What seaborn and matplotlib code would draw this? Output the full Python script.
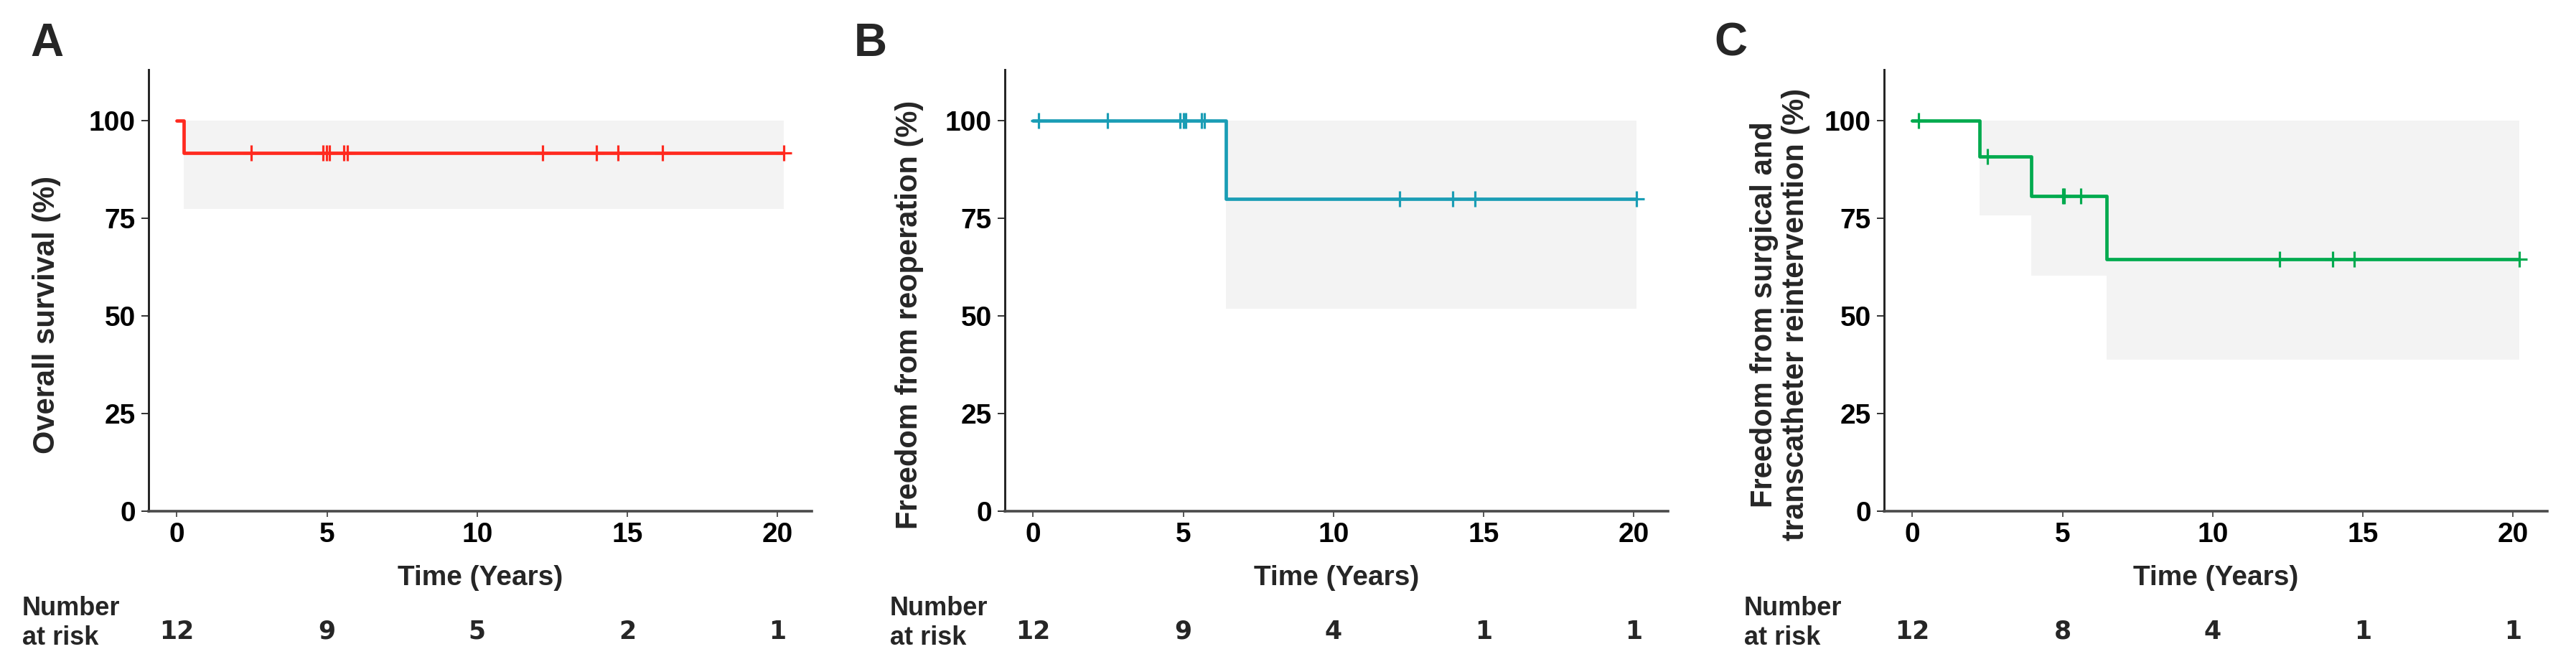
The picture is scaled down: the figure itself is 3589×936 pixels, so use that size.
import numpy as np
import pandas as pd
import matplotlib
matplotlib.use('Agg')
import matplotlib.pyplot as plt
import matplotlib.transforms as mtransforms
import seaborn as sns

# ---- data ----
# A: overall survival
a_t = [0, 0.22, 20.2]
a_s = [100, 91.7, 91.7]
a_cens = [2.48, 4.87, 4.98, 5.09, 5.55, 5.67, 12.18, 13.96, 14.68, 16.18, 20.2]
a_ci_t = [0.22, 20.2]
a_ci_lo = [77.4, 77.4]
a_risk = [12, 9, 5, 2, 1]

# B: freedom from reoperation
b_t = [0, 6.42, 20.1]
b_s = [100, 80.0, 80.0]
b_cens = [0.18, 2.47, 4.9, 5.0, 5.08, 5.6, 5.7, 12.2, 13.97, 14.7, 20.1]
b_ci_t = [6.42, 20.1]
b_ci_lo = [51.8, 51.8]
b_risk = [12, 9, 4, 1, 1]

# C: freedom from surgical and transcatheter reintervention
c_t = [0, 2.24, 3.95, 6.47, 20.2]
c_s = [100, 90.9, 80.8, 64.6, 64.6]
c_cens = [0.2, 2.5, 5.0, 5.06, 5.6, 12.22, 13.99, 14.71, 20.2]
c_ci_t = [2.24, 3.95, 6.47, 20.2]
c_ci_lo = [75.8, 60.4, 38.8, 38.8]
c_risk = [12, 8, 4, 1, 1]

xticks = [0, 5, 10, 15, 20]
yticks = [0, 25, 50, 75, 100]

panels = [
    dict(tag='A', t=a_t, s=a_s, cens=a_cens, ci_t=a_ci_t, ci_lo=a_ci_lo, risk=a_risk,
         color='#FF2A1F', ylabel='Overall survival (%)',
         left=207, tag_x=42, ylab_x=65, risk_x=31),
    dict(tag='B', t=b_t, s=b_s, cens=b_cens, ci_t=b_ci_t, ci_lo=b_ci_lo, risk=b_risk,
         color='#1A9DB5', ylabel='Freedom from reoperation (%)',
         left=1400, tag_x=1190, ylab_x=1267, risk_x=1240),
    dict(tag='C', t=c_t, s=c_s, cens=c_cens, ci_t=c_ci_t, ci_lo=c_ci_lo, risk=c_risk,
         color='#00AA4E', ylabel='Freedom from surgical and\ntranscatheter reintervention (%)',
         left=2625, tag_x=2388, ylab_x=2480, risk_x=2430),
]

W, H = 3589, 936
sns.set_style('ticks')
plt.rcParams['font.family'] = ['Liberation Sans', 'DejaVu Sans']
plt.rcParams['font.weight'] = 'bold'
narrow = ['Liberation Sans Narrow', 'Liberation Sans', 'DejaVu Sans']

fig = plt.figure(figsize=(W / 100, H / 100), dpi=100)


def fx(px):
    return px / W


def fy(py):
    return 1 - py / H


ax_top, ax_bot, ax_w = 97, 712, 924
for p in panels:
    ax = fig.add_axes([fx(p['left']), fy(ax_bot), fx(ax_w), (ax_bot - ax_top) / H])

    ax.fill_between(p['ci_t'], p['ci_lo'], [100] * len(p['ci_t']), step='post',
                    color='#F3F3F3', lw=0, zorder=1)

    curve = pd.DataFrame({'time': p['t'], 'surv': p['s']})
    sns.lineplot(data=curve, x='time', y='surv', drawstyle='steps-post', estimator=None,
                 color=p['color'], lw=3.4, ax=ax, zorder=3)

    t = np.array(p['t'])
    s = np.array(p['s'])
    cy = s[np.searchsorted(t, p['cens'], side='right') - 1]
    cens = pd.DataFrame({'time': p['cens'], 'surv': cy})
    sns.scatterplot(data=cens, x='time', y='surv', marker='+', s=240, color=p['color'],
                    linewidth=2.3, ax=ax, zorder=4)

    ax.set_xlim(-0.94, 21.14)
    ax.set_ylim(0, 113.1)
    ax.set_xticks(xticks)
    ax.set_yticks(yticks)
    ax.set_xlabel('')
    ax.set_ylabel('')
    sns.despine(ax=ax)
    ax.spines['left'].set_linewidth(2.1)
    ax.spines['left'].set_color('#222222')
    ax.spines['bottom'].set_linewidth(2.6)
    ax.spines['bottom'].set_color('#4a4a4a')
    ax.tick_params(axis='y', length=7, width=1.3, pad=6, colors='#222222',
                   labelcolor='black')
    ax.tick_params(axis='x', length=6, width=1.3, pad=5, colors='#4a4a4a',
                   labelcolor='black')
    for lab in ax.get_xticklabels() + ax.get_yticklabels():
        lab.set_fontweight('bold')
        lab.set_family(narrow)
        lab.set_fontsize(28)

    # panel tag and titles
    fig.text(fx(p['tag_x']), fy(78), p['tag'], fontsize=46, fontweight='bold',
             ha='left', va='baseline')
    fig.text(fx(p['ylab_x']), fy(438), p['ylabel'], fontsize=30, fontweight='bold',
             rotation=90, ha='center', va='center', multialignment='center',
             linespacing=1.15)
    tr = mtransforms.blended_transform_factory(ax.transAxes, fig.transFigure)
    ax.text(0.5, fy(815), 'Time (Years)', transform=tr, fontsize=28, fontweight='bold',
            ha='center', va='baseline')

    # number at risk table
    fig.text(fx(p['risk_x']), fy(857), 'Number', fontsize=26, fontweight='bold',
             ha='left', va='baseline')
    fig.text(fx(p['risk_x']), fy(898), 'at risk', fontsize=26, fontweight='bold',
             ha='left', va='baseline')
    trd = mtransforms.blended_transform_factory(ax.transData, fig.transFigure)
    for xv, n in zip(xticks, p['risk']):
        ax.text(xv, fy(890), str(n), transform=trd, fontsize=25, fontweight='bold',
                family='DejaVu Sans', ha='center', va='baseline')

fig.savefig('out.png', dpi=100)
